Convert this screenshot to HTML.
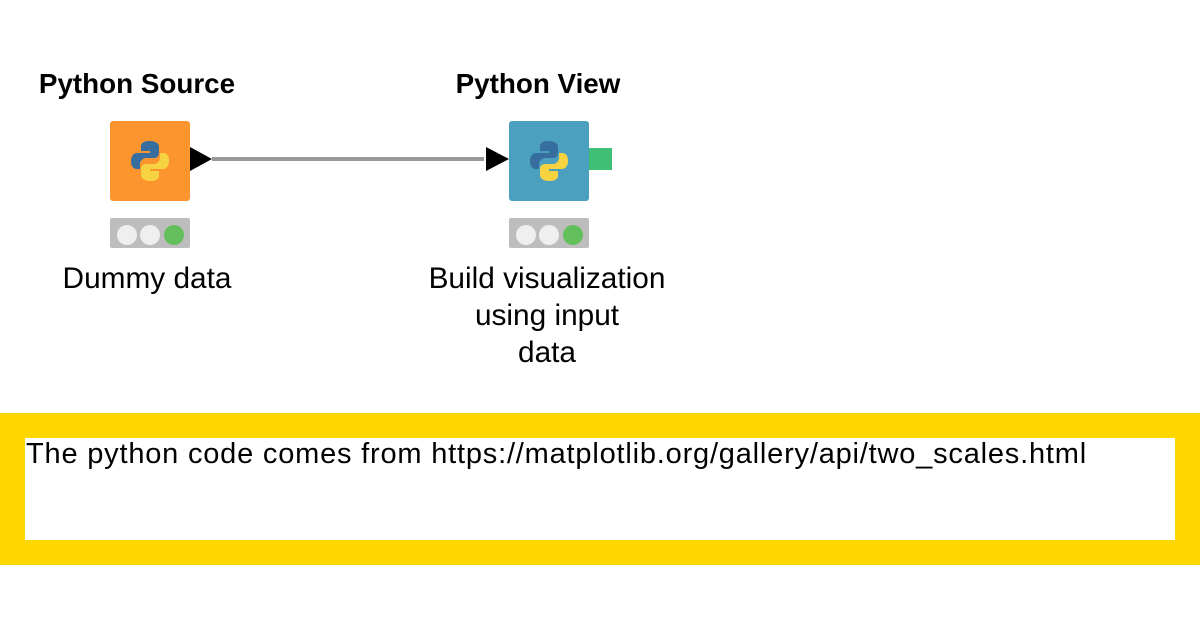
<!DOCTYPE html>
<html><head><style>
body{margin:0;width:1200px;height:630px;background:#fff;position:relative;overflow:hidden;font-family:"Liberation Sans",sans-serif;color:#000}
.t{position:absolute;white-space:nowrap;text-align:center}
.b{font-weight:bold;font-size:27.8px}
.l{font-size:29.8px;line-height:37px}
.st{position:absolute;top:218px;width:80px;height:30px;background:#bdbdbd;border-radius:2px}
.c{position:absolute;top:7px;width:20px;height:20px;border-radius:50%;background:#efefef}
</style></head><body>
<div class="t b" style="left:0;width:274px;top:68px">Python Source</div>
<div class="t b" style="left:398px;width:280px;top:68px">Python View</div>
<svg style="position:absolute;left:0;top:0" width="1200" height="630">
<rect x="110" y="121" width="80" height="80" rx="3" fill="#fd952f"/>
<rect x="509" y="121" width="80" height="80" rx="3" fill="#4aa0be"/>
<polygon points="190,147 212,159 190,171" fill="#000"/>
<rect x="212" y="157" width="272" height="4" fill="#999"/>
<polygon points="486,147 509,159 486,171" fill="#000"/>
<rect x="589" y="148" width="23" height="22" fill="#3fbf75"/>
<g id="py">
<path d="M150,141 c-8,0 -9,3 -9,6 v4 h9 v2 h-13 c-4,0 -6,4 -6,8 c0,5 2,8 6,8 h3 v-5 c0,-3 3,-6 6,-6 h8 c3,0 5,-2 5,-5 v-6 c0,-3 -3,-6 -9,-6z" fill="#366e9f"/>
<path d="M150,181 c8,0 9,-3 9,-6 v-4 h-9 v-2 h13 c4,0 6,-4 6,-8 c0,-5 -2,-8 -6,-8 h-3 v5 c0,3 -3,6 -6,6 h-8 c-3,0 -5,2 -5,5 v6 c0,3 3,6 9,6z" fill="#f7d341"/>
</g>
<use href="#py" x="399"/>
</svg>
<div class="st" style="left:110px"><div class="c" style="left:7px"></div><div class="c" style="left:30px"></div><div class="c" style="left:54px;background:#63bf5c"></div></div>
<div class="st" style="left:509px"><div class="c" style="left:7px"></div><div class="c" style="left:30px"></div><div class="c" style="left:54px;background:#63bf5c"></div></div>
<div class="t l" style="left:0;width:294px;top:260px">Dummy data</div>
<div class="t l" style="left:398px;width:298px;top:260px">Build visualization<br>using input<br>data</div>
<div style="position:absolute;left:0;top:413px;width:1200px;height:152px;background:#ffd700"></div>
<div style="position:absolute;left:25px;top:438px;width:1150px;height:102px;background:#fff"></div>
<div class="t" style="left:26px;top:438px;font-size:29px;text-align:left;letter-spacing:0.8px">The python code comes from https://matplotlib.org/gallery/api/two_scales.html</div>
</body></html>
